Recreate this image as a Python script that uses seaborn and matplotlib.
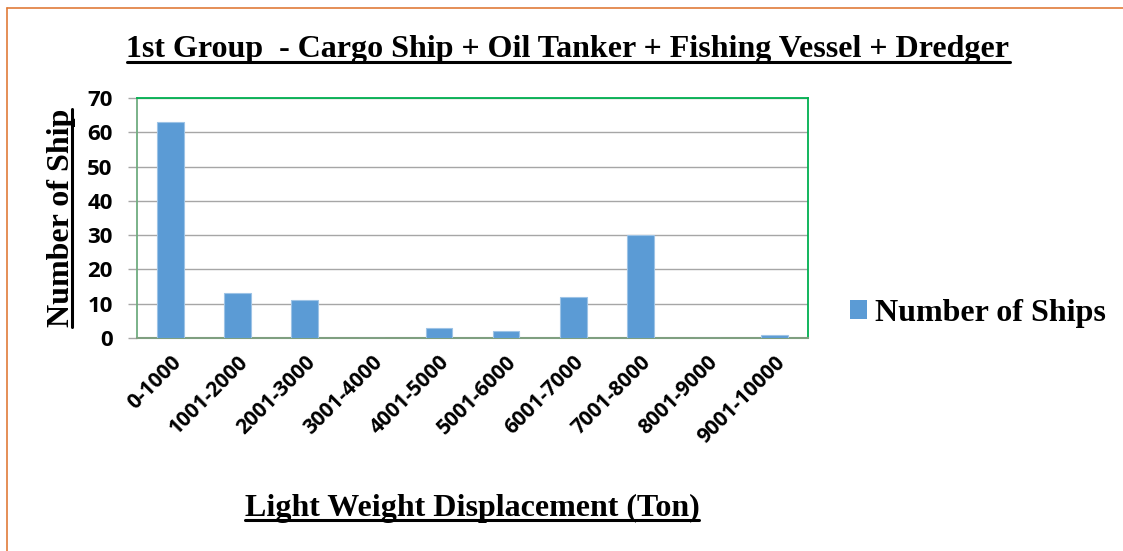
import glob
import numpy as np
import pandas as pd
import matplotlib
matplotlib.use("Agg")
import matplotlib.pyplot as plt
import seaborn as sns
from matplotlib.lines import Line2D
from matplotlib.patches import Patch
from matplotlib.font_manager import FontProperties


# data
ranges = ["0-1000", "1001-2000", "2001-3000", "3001-4000", "4001-5000",
          "5001-6000", "6001-7000", "7001-8000", "8001-9000", "9001-10000"]
num_ships = [63, 13, 11, 0, 3, 2, 12, 30, 0, 1]
y_ticks = [0, 10, 20, 30, 40, 50, 60, 70]

df = pd.DataFrame({"range": ranges, "ships": num_ships})

sns.set_theme(style="white")
plt.rcParams["text.color"] = "black"
plt.rcParams["xtick.color"] = "black"
plt.rcParams["ytick.color"] = "black"


def bold_font(pattern, family, size):
    files = glob.glob("/usr/share/fonts/**/" + pattern, recursive=True)
    if files:
        return FontProperties(fname=files[0], size=size)
    return FontProperties(family=family, weight="bold", size=size)


serif_big = bold_font("LiberationSerif-Bold.ttf", "Liberation Serif", 23)
sans_y = bold_font("OpenSans-Bold.ttf", "Open Sans", 16)
sans_x = bold_font("OpenSans-Bold.ttf", "Open Sans", 15)

fig = plt.figure(figsize=(11.23, 5.51), dpi=100)
ax = fig.add_axes([137 / 1123, 1 - 338 / 551, (808 - 137) / 1123, (338 - 98) / 551])

sns.barplot(data=df, x="range", y="ships", color="#5B9BD5", saturation=1,
            width=0.4, edgecolor="#9DC3E6", linewidth=0.8, ax=ax, zorder=3)

ax.set_ylim(0, 70)
ax.set_yticks(y_ticks)
ax.set_yticklabels([str(v) for v in y_ticks], fontproperties=sans_y, color="black")
ax.set_xticks(range(len(ranges)))
ax.set_xticklabels(ranges, rotation=45, ha="right", rotation_mode="anchor",
                   fontproperties=sans_x, color="black")
ax.tick_params(axis="x", length=0, pad=10)
ax.tick_params(axis="y", length=6.5, width=1, color="#A6A6A6", pad=11, direction="out",
               left=True)
ax.yaxis.grid(True, color="#A6A6A6", linewidth=1, zorder=0)
ax.set_axisbelow(True)
ax.set_xlabel("")
ax.set_ylabel("")
ax.set_xlim(-0.5, len(ranges) - 0.5)

for side in ["top", "right", "left"]:
    ax.spines[side].set_color("#00B050")
    ax.spines[side].set_linewidth(1.3)
ax.spines["left"].set_color("#70AD80")
ax.spines["bottom"].set_color("#7F9F80")
ax.spines["bottom"].set_linewidth(1.5)

# orange outline of the chart area (left and top only visible)
fig.add_artist(Line2D([7 / 1123, 7 / 1123], [0, 1 - 8 / 551], color="#E07B39", lw=1.2))
fig.add_artist(Line2D([7 / 1123, 1], [1 - 8 / 551, 1 - 8 / 551], color="#E07B39", lw=1.2))

title = fig.text(568 / 1123, 1 - 50 / 551,
                 "1st Group  - Cargo Ship + Oil Tanker + Fishing Vessel + Dredger",
                 ha="center", va="center", fontproperties=serif_big, color="black")
xlab = fig.text(472 / 1123, 1 - 508 / 551, "Light Weight Displacement (Ton)",
                ha="center", va="center", fontproperties=serif_big, color="black")
ylab = fig.text(61 / 1123, 1 - 218 / 551, "Number of Ship", rotation=90,
                ha="center", va="center", fontproperties=serif_big, color="black")

leg = fig.legend(handles=[Patch(facecolor="#5B9BD5", edgecolor="none")],
                 labels=["Number of Ships"], loc="center left",
                 bbox_to_anchor=(821 / 1123, 1 - 313 / 551), frameon=False,
                 prop=serif_big, handlelength=0.55, handleheight=0.55,
                 handletextpad=0.25, labelcolor="black")

# underline the serif labels
fig.canvas.draw()
r = fig.canvas.get_renderer()
inv = fig.transFigure.inverted()
for t in [title, xlab]:
    bb = t.get_window_extent(r)
    (x0, y0), (x1, y1) = inv.transform([[bb.x0, bb.y0], [bb.x1, bb.y1]])
    yy = y0 + 3 / 551
    fig.add_artist(Line2D([x0, x1], [yy, yy], color="black", lw=2.2))
bb = ylab.get_window_extent(r)
(x0, y0), (x1, y1) = inv.transform([[bb.x0, bb.y0], [bb.x1, bb.y1]])
xx = x1 - 3 / 1123
fig.add_artist(Line2D([xx, xx], [y0, y1], color="black", lw=2.2))

fig.savefig("out.png", dpi=100, facecolor="white")
